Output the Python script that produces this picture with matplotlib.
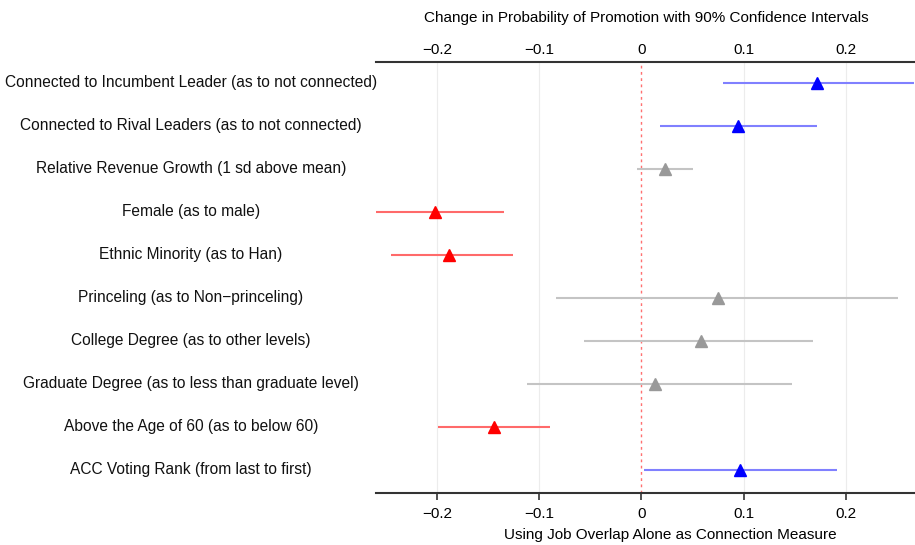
import matplotlib
matplotlib.use("Agg")
import matplotlib.pyplot as plt
import matplotlib.transforms as mtransforms

plt.rcParams['font.family'] = ['Liberation Sans', 'DejaVu Sans']

labels = [
    "Connected to Incumbent Leader (as to not connected)",
    "Connected to Rival Leaders (as to not connected)",
    "Relative Revenue Growth (1 sd above mean)",
    "Female (as to male)",
    "Ethnic Minority (as to Han)",
    "Princeling (as to Non\u2212princeling)",
    "College Degree (as to other levels)",
    "Graduate Degree (as to less than graduate level)",
    "Above the Age of 60 (as to below 60)",
    "ACC Voting Rank (from last to first)",
]
estimates = [0.172, 0.095, 0.023, -0.202, -0.188, 0.075, 0.058, 0.013, -0.144, 0.097]
lower = [0.080, 0.018, -0.004, -0.265, -0.245, -0.083, -0.056, -0.112, -0.199, 0.003]
upper = [0.280, 0.172, 0.051, -0.134, -0.126, 0.251, 0.168, 0.147, -0.089, 0.191]
groups = ["pos", "pos", "ns", "neg", "neg", "ns", "ns", "ns", "neg", "pos"]

marker_colors = {"pos": "#0000ff", "neg": "#ff0000", "ns": "#999999"}
line_colors = {"pos": "#8080ff", "neg": "#ff6a6a", "ns": "#c4c4c4"}

xticks = [-0.2, -0.1, 0.0, 0.1, 0.2]
xticklabels = ["\u22120.2", "\u22120.1", "0", "0.1", "0.2"]

fig = plt.figure(figsize=(9.15, 5.45), dpi=100)
ax = fig.add_axes([376 / 915, 1 - 493 / 545, (914 - 376) / 915, (493 - 62) / 545])

rows = list(range(1, len(labels) + 1))

for x in xticks:
    if x != 0:
        ax.axvline(x, color="#ececec", lw=0.8, zorder=0)
ax.axvline(0, color="#ff7070", lw=1.0, ls=(0, (2, 2.5)), zorder=1)

for r, est, lo, hi, g in zip(rows, estimates, lower, upper, groups):
    ax.plot([lo, hi], [r, r], color=line_colors[g], lw=1.5, solid_capstyle="butt", zorder=2)
    ax.plot([est], [r], marker="^", color=marker_colors[g], markersize=8, ls="none", zorder=3)

ax.set_xlim(-0.2596, 0.2668)
ax.set_ylim(10.54, 0.515)
ax.set_yticks([])
ax.set_xticks(xticks)
ax.set_xticklabels(xticklabels)
ax.tick_params(axis="x", top=False, labeltop=False, bottom=True, labelbottom=True,
               labelsize=11, length=5, width=1.2, color="#333333", pad=5)
for s in ["left", "right"]:
    ax.spines[s].set_visible(False)
for s in ["top", "bottom"]:
    ax.spines[s].set_color("#333333")
    ax.spines[s].set_linewidth(1.5)

# top tick labels (no tick marks)
for x, lab in zip(xticks, xticklabels):
    ax.annotate(lab, xy=(x, 1), xycoords=("data", "axes fraction"),
                xytext=(0, 12), textcoords="offset pixels",
                ha="center", va="center", fontsize=11)

trans = mtransforms.blended_transform_factory(fig.transFigure, ax.transData)
for r, lab in zip(rows, labels):
    ax.text(191 / 915, r, lab, transform=trans, ha="center", va="center",
            fontsize=11.2, color="#111111", clip_on=False)

fig.text(646 / 915, 1 - 18 / 545, "Change in Probability of Promotion with 90% Confidence Intervals",
         ha="center", va="center", fontsize=11)
fig.text(670 / 915, 1 - 535 / 545, "Using Job Overlap Alone as Connection Measure",
         ha="center", va="center", fontsize=11)

fig.savefig("out.png", dpi=100, facecolor="white")
